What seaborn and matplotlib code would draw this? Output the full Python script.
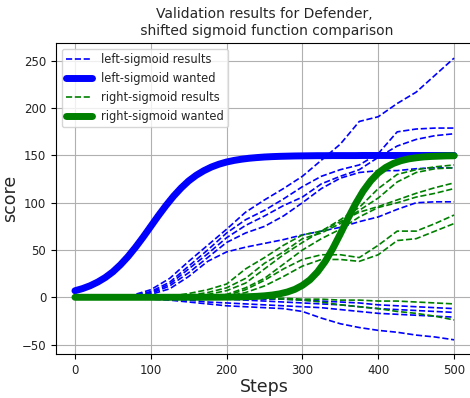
import numpy as np
import matplotlib
matplotlib.use("Agg")
import matplotlib.pyplot as plt
import seaborn as sns

# ---- data ----
run_steps = [0, 25, 50, 75, 100, 125, 150, 175, 200, 225, 250, 275, 300, 325, 350, 375, 400, 425, 450, 475, 500]

left_results = [
    [0, 0, 1, 2, 8, 20, 38, 55, 72, 90, 103, 115, 128, 145, 162, 186, 191, 205, 217, 235, 253],
    [0, 0, 1, 2, 6, 16, 33, 50, 68, 82, 92, 104, 117, 128, 135, 140, 152, 175, 178, 179, 179],
    [0, 0, 0, 1, 5, 14, 30, 46, 63, 76, 86, 97, 106, 120, 128, 135, 148, 160, 167, 171, 173],
    [0, 0, 0, 1, 4, 12, 26, 42, 58, 68, 75, 86, 100, 115, 126, 132, 134, 134, 136, 137, 137],
    [0, 0, 0, 1, 3, 9, 22, 38, 48, 53, 57, 61, 66, 70, 74, 80, 85, 93, 100, 101, 101],
    [0, 0, 0, -1, -2, -3, -5, -7, -9, -10, -11, -12, -15, -22, -28, -32, -35, -37, -40, -42, -45],
    [0, 0, 0, 0, -1, -2, -3, -5, -6, -7, -8, -9, -10, -11, -13, -15, -17, -18, -19, -20, -21],
    [0, 0, 0, 0, 0, -1, -1, -2, -2, -3, -4, -5, -6, -7, -8, -10, -12, -13, -14, -15, -16],
    [0, 0, 0, 0, 0, 0, 0, 0, -1, -1, -2, -2, -3, -4, -5, -6, -8, -9, -10, -11, -12],
]

right_results = [
    [0, 0, 0, 0, 0, 1, 4, 8, 14, 30, 42, 55, 66, 70, 82, 95, 115, 130, 135, 138, 140],
    [0, 0, 0, 0, 0, 0, 2, 5, 10, 20, 36, 48, 62, 68, 78, 92, 105, 122, 132, 136, 137],
    [0, 0, 0, 0, 0, 0, 1, 3, 7, 15, 30, 45, 58, 70, 80, 90, 96, 103, 110, 116, 121],
    [0, 0, 0, 0, 0, 0, 0, 1, 3, 10, 20, 35, 50, 62, 72, 85, 95, 100, 106, 110, 115],
    [0, 0, 0, 0, 0, 0, 0, 1, 2, 8, 18, 30, 40, 45, 45, 42, 55, 70, 70, 78, 87],
    [0, 0, 0, 0, 0, 0, 0, 0, 1, 5, 12, 22, 33, 40, 40, 38, 45, 60, 62, 70, 78],
    [0, 0, 0, 0, 0, 0, 0, 0, 0, 0, -1, -1, -2, -2, -3, -3, -4, -4, -5, -6, -7],
    [0, 0, 0, 0, 0, 0, 0, 0, 0, -1, -1, -2, -3, -5, -8, -10, -12, -15, -17, -20, -24],
]

wanted_steps = [0, 10, 20, 30, 40, 50, 60, 70, 80, 90, 100, 110, 120, 130, 140, 150, 160, 170, 180, 190,
                200, 210, 220, 230, 240, 250, 260, 270, 280, 290, 300, 310, 320, 330, 340, 350, 360, 370,
                380, 390, 400, 410, 420, 430, 440, 450, 460, 470, 480, 490, 500]

left_wanted = [6.9, 9.2, 12.2, 16.1, 20.9, 26.9, 34.4, 43.1, 53.0, 63.7, 75.0, 86.3, 97.0, 106.9, 115.6,
               123.1, 129.1, 133.9, 137.8, 140.8, 143.1, 144.8, 146.1, 147.1, 147.8, 148.4, 148.8, 149.1,
               149.3, 149.5, 149.6, 149.7, 149.8, 149.8, 149.9, 149.9, 149.9, 149.9, 150, 150, 150, 150,
               150, 150, 150, 150, 150, 150, 150, 150, 150]

right_wanted = [0, 0, 0, 0, 0, 0, 0, 0, 0, 0, 0, 0, 0, 0.01, 0.02, 0.03, 0.04, 0.05, 0.08, 0.12,
                0.18, 0.27, 0.42, 0.65, 1.0, 1.54, 2.37, 3.62, 5.56, 8.38, 12.6, 18.5, 26.9, 37.8, 51.4,
                67.0, 83.3, 98.7, 112.2, 123.1, 131.5, 137.4, 141.6, 144.5, 146.4, 147.6, 148.5, 149.0,
                149.3, 149.6, 149.7]

title = "Validation results for Defender,\n shifted sigmoid function comparison"

# ---- plot ----
sns.set_style("ticks")
plt.rcParams['font.family'] = ['DejaVu Sans']

fig = plt.figure(figsize=(4.70, 3.98), dpi=100)
ax = fig.add_axes([56 / 470, (398 - 354) / 398, (473 - 56) / 470, (354 - 43) / 398])

for i, run in enumerate(left_results):
    sns.lineplot(x=run_steps, y=run, ax=ax, color="blue", linestyle="--", linewidth=1.2,
                 label="left-sigmoid results" if i == 0 else "_nolegend_")
sns.lineplot(x=wanted_steps, y=left_wanted, ax=ax, color="blue", linewidth=5, label="left-sigmoid wanted")
for i, run in enumerate(right_results):
    sns.lineplot(x=run_steps, y=run, ax=ax, color="green", linestyle="--", linewidth=1.2,
                 label="right-sigmoid results" if i == 0 else "_nolegend_")
sns.lineplot(x=wanted_steps, y=right_wanted, ax=ax, color="green", linewidth=5, label="right-sigmoid wanted")

ax.set_xlim(-25, 525)
ax.set_ylim(-60, 269)
ax.set_xticks([0, 100, 200, 300, 400, 500])
ax.set_yticks([-50, 0, 50, 100, 150, 200, 250])
ax.grid(True, color="#b0b0b0", linewidth=0.8)
for s in ax.spines.values():
    s.set_color("black")
    s.set_linewidth(0.8)
ax.tick_params(axis="both", labelsize=8.5, length=3.5, width=0.8, color="black", labelcolor="#222222")
ax.set_xlabel("Steps", fontsize=12.5, labelpad=1)
ax.set_ylabel("score", fontsize=12.5, labelpad=2)
ax.set_title(title, fontsize=10)
leg = ax.legend(loc="upper left", fontsize=8.3, frameon=True, handlelength=2.2)

fig.savefig("out.png", dpi=100)
